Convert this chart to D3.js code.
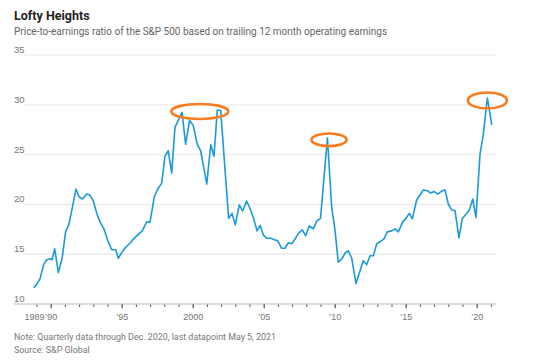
<!DOCTYPE html>
<html>
<head>
<meta charset="utf-8">
<script src="https://cdn.jsdelivr.net/npm/d3@7"></script>
<style>
  body { margin: 0; background: #fff; }
  svg { display: block; font-family: Roboto, "Noto Sans", sans-serif; }
</style>
</head>
<body>
<svg id="canvas" width="536" height="361"></svg>
<script>
// quarterly P/E readings (decimal year, ratio)
var dates = [1988.8, 1989.0, 1989.25, 1989.5, 1989.72, 1990.0, 1990.1, 1990.28, 1990.54, 1990.8,
  1991.05, 1991.29, 1991.52, 1991.78, 1992.0, 1992.25, 1992.53, 1992.77, 1993.0, 1993.24,
  1993.47, 1993.75, 1994.02, 1994.3, 1994.58, 1994.76, 1995.04, 1995.28, 1995.58, 1995.87,
  1996.17, 1996.45, 1996.76, 1996.99, 1997.3, 1997.54, 1997.82, 1998.05, 1998.28, 1998.52,
  1998.75, 1999.0, 1999.25, 1999.5, 1999.78, 2000.04, 2000.32, 2000.56, 2000.99, 2001.27,
  2001.5, 2001.73, 2001.97, 2002.53, 2002.77, 2003.0, 2003.28, 2003.52, 2003.8, 2004.08,
  2004.3, 2004.53, 2004.76, 2004.97, 2005.21, 2005.51, 2005.75, 2005.99, 2006.27, 2006.5,
  2006.73, 2006.97, 2007.2, 2007.44, 2007.72, 2007.96, 2008.21, 2008.49, 2008.75, 2009.0,
  2009.49, 2009.79, 2010.02, 2010.25, 2010.49, 2010.73, 2010.96, 2011.2, 2011.5, 2011.73,
  2012.01, 2012.25, 2012.49, 2012.72, 2012.96, 2013.19, 2013.47, 2013.7, 2014.01, 2014.25,
  2014.48, 2014.79, 2015.02, 2015.25, 2015.47, 2015.77, 2016.01, 2016.24, 2016.48, 2016.76,
  2017.01, 2017.25, 2017.54, 2017.77, 2018.0, 2018.24, 2018.47, 2018.75, 2018.99, 2019.23,
  2019.48, 2019.72, 2019.95, 2020.23, 2020.46, 2020.75, 2021.06]
var pe = [11.6, 11.9, 12.5, 13.9, 14.4, 14.5, 14.4, 15.5, 13.1, 14.5,
  17.2, 18.0, 19.6, 21.5, 20.7, 20.5, 21.0, 20.9, 20.3, 19.1,
  18.2, 17.5, 16.3, 15.4, 15.4, 14.55, 15.2, 15.65, 16.05, 16.55,
  16.95, 17.3, 18.2, 18.15, 20.75, 21.5, 22.1, 24.8, 25.35, 23.1,
  27.7, 28.45, 29.2, 26.0, 28.4, 27.9, 26.0, 25.35, 22.0, 25.95,
  24.8, 29.45, 29.4, 18.55, 19.05, 17.9, 19.9, 19.3, 20.3, 19.4,
  18.5, 17.3, 17.85, 16.9, 16.55, 16.55, 16.4, 16.3, 15.55, 15.55,
  16.1, 16.0, 16.45, 17.05, 17.4, 16.8, 17.8, 17.5, 18.3, 18.55,
  26.65, 19.6, 17.4, 14.15, 14.45, 15.05, 15.3, 14.55, 12.0, 13.05,
  14.3, 13.9, 14.8, 14.8, 16.0, 16.2, 16.5, 17.2, 17.3, 17.5,
  17.2, 18.2, 18.55, 19.05, 18.5, 20.4, 20.9, 21.4, 21.35, 21.1,
  21.25, 21.0, 21.3, 21.4, 20.0, 19.4, 19.35, 16.6, 18.55, 18.95,
  19.4, 20.5, 18.65, 24.95, 26.95, 30.65, 27.95]

var yTicks = [10, 15, 20, 25, 30, 35]
var xLabelYears = [1989, 1990, 1995, 2000, 2005, 2010, 2015, 2020]
var xMinorYears = d3.range(1989, 2022)

// circled peaks: centre (year, ratio) and radii in px
var peakYears = [2000.5, 2009.6, 2020.75]
var peakValues = [29.3, 26.45, 30.4]
var peakRx = [28.5, 17.5, 19.5]
var peakRy = [7.5, 6.3, 8]

var svg = d3.select('#canvas')

var x = d3.scaleLinear().domain([1990, 2020]).range([50.7, 476.7])
var y = d3.scaleLinear().domain([10, 35]).range([303.5, 54.7])
var left = 14, right = 496.5

// title block
svg.append('text').attr('x', 14).attr('y', 20)
  .attr('font-size', 12.5).attr('font-weight', 700).attr('fill', '#222')
  .text('Lofty Heights')
svg.append('text').attr('x', 14).attr('y', 34.5)
  .attr('font-size', 10).attr('fill', '#666')
  .text('Price-to-earnings ratio of the S&P 500 based on trailing 12 month operating earnings')

// horizontal grid + y labels
var yAxis = d3.axisLeft(y).tickValues(yTicks).tickSize(0).tickPadding(0)
var gy = svg.append('g').call(yAxis)
gy.select('.domain').remove()
gy.selectAll('.tick text')
  .attr('x', left).attr('dy', -2).attr('text-anchor', 'start')
  .attr('font-size', 9.5).attr('fill', '#777').attr('font-family', null)
gy.selectAll('.tick line')
  .attr('x1', function(d) { return d === 10 ? left : left + 10 })
  .attr('x2', right)
  .attr('stroke', function(d) { return d === 10 ? '#dcdcdc' : '#ececec' })
  .attr('stroke-width', function(d) { return d === 10 ? 2 : 1.3 })

// x axis: minor yearly ticks then labelled ticks
var gMinor = svg.append('g').attr('transform', 'translate(0,' + (y(10) + 1) + ')')
  .call(d3.axisBottom(x).tickValues(xMinorYears).tickSize(2.5).tickFormat(''))
gMinor.select('.domain').remove()
gMinor.selectAll('.tick line').attr('stroke', '#555')

var gx = svg.append('g').attr('transform', 'translate(0,' + (y(10) + 1) + ')')
  .call(d3.axisBottom(x).tickValues(xLabelYears).tickSize(4).tickPadding(5)
    .tickFormat(function(d) { return d === 1989 || d === 2000 ? String(d) : '\u2019' + String(d).slice(2) }))
gx.select('.domain').remove()
gx.selectAll('.tick line').attr('stroke', function(d) { return d === 1989 ? 'none' : '#555' })
gx.selectAll('.tick text').attr('font-size', 9).attr('fill', '#777').attr('font-family', null)
// 1989 sits tucked left of the '90 label
gx.selectAll('.tick text').filter(function(d) { return d === 1989 })
  .attr('text-anchor', 'end').attr('x', 7.5)

// the series
var line = d3.line()
  .x(function(d, i) { return x(dates[i]) })
  .y(function(d) { return y(d) })
svg.append('path').datum(pe)
  .attr('d', line)
  .attr('fill', 'none')
  .attr('stroke', '#1b9ad8')
  .attr('stroke-width', 1.6)
  .attr('stroke-linejoin', 'round')

// orange rings round the peaks
svg.selectAll('.peak').data(peakYears).enter().append('ellipse')
  .attr('class', 'peak')
  .attr('cx', function(d) { return x(d) })
  .attr('cy', function(d, i) { return y(peakValues[i]) })
  .attr('rx', function(d, i) { return peakRx[i] })
  .attr('ry', function(d, i) { return peakRy[i] })
  .attr('fill', 'none')
  .attr('stroke', '#f67d1f')
  .attr('stroke-width', 2.6)

// footnotes
svg.append('text').attr('x', 14).attr('y', 340)
  .attr('font-size', 8.9).attr('fill', '#777')
  .text('Note: Quarterly data through Dec. 2020, last datapoint May 5, 2021')
svg.append('text').attr('x', 14).attr('y', 353)
  .attr('font-size', 8.9).attr('fill', '#777')
  .text('Source: S&P Global')
</script>
</body>
</html>
